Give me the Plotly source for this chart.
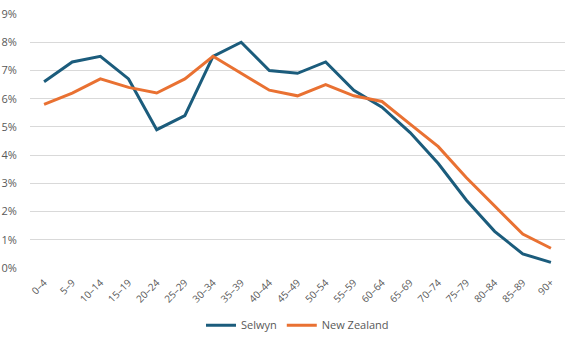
import plotly.graph_objects as go

age_groups = ["0–4", "5–9", "10–14", "15–19", "20–24", "25–29", "30–34", "35–39",
              "40–44", "45–49", "50–54", "55–59", "60–64", "65–69", "70–74",
              "75–79", "80–84", "85–89", "90+"]
selwyn = [6.6, 7.3, 7.5, 6.7, 4.9, 5.4, 7.5, 8.0, 7.0, 6.9, 7.3, 6.3, 5.7, 4.8,
          3.7, 2.4, 1.3, 0.5, 0.2]
new_zealand = [5.8, 6.2, 6.7, 6.4, 6.2, 6.7, 7.5, 6.9, 6.3, 6.1, 6.5, 6.1, 5.9,
               5.1, 4.3, 3.2, 2.2, 1.2, 0.7]
y_ticks = [0, 1, 2, 3, 4, 5, 6, 7, 8, 9]
y_tick_labels = [f"{v}%" for v in y_ticks]

fig = go.Figure()
fig.add_trace(go.Scatter(x=age_groups, y=selwyn, mode="lines", name="Selwyn",
                         line=dict(color="#1B5C7C", width=3)))
fig.add_trace(go.Scatter(x=age_groups, y=new_zealand, mode="lines", name="New Zealand",
                         line=dict(color="#E97132", width=3)))

font_family = "Open Sans, Lato, sans-serif"
fig.update_layout(
    width=567, height=347,
    margin=dict(l=30, r=2, t=14, b=79),
    paper_bgcolor="white", plot_bgcolor="white",
    font=dict(family=font_family, size=11, color="#595959"),
    showlegend=True,
    legend=dict(orientation="h", x=0.5, xanchor="center", y=-0.225, yanchor="middle",
                font=dict(size=11, color="#595959"), itemwidth=30, tracegroupgap=0),
    xaxis=dict(type="category", range=[-0.5, 18.5], tickangle=-45,
               showgrid=False, zeroline=False, showline=False,
               ticks="outside", ticklen=4, tickcolor="rgba(0,0,0,0)",
               tickfont=dict(size=10, color="#595959")),
    yaxis=dict(range=[0, 9], tickvals=y_ticks, ticktext=y_tick_labels,
               showgrid=True, gridcolor="#D9D9D9", gridwidth=1, zeroline=False,
               showline=False, ticks="outside", ticklen=10, tickcolor="rgba(0,0,0,0)",
               tickfont=dict(size=11, color="#595959")),
)

fig.write_html("out.html")
